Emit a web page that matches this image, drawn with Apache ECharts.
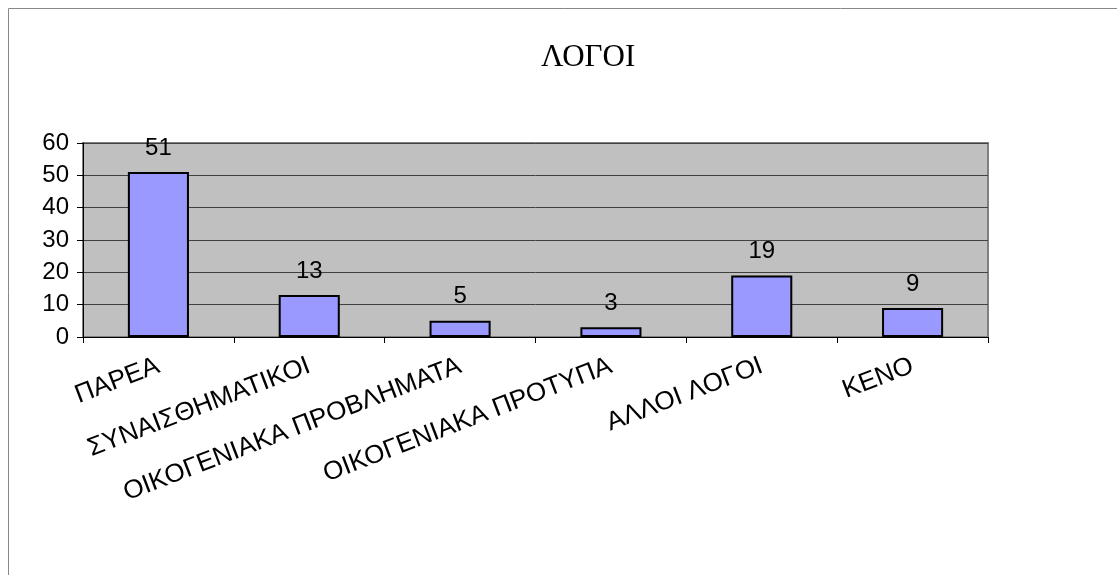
<!DOCTYPE html>
<html>
<head>
<meta charset="utf-8">
<script src="https://cdn.jsdelivr.net/npm/echarts@6/dist/echarts.min.js"></script>
<style>
  html, body { margin: 0; padding: 0; background: #fff; }
  #chart { width: 1117px; height: 575px; }
</style>
</head>
<body>
<div id="chart"></div>
<script>
const categories = ['ΠΑΡΕΑ', 'ΣΥΝΑΙΣΘΗΜΑΤΙΚΟΙ', 'ΟΙΚΟΓΕΝΙΑΚΑ ΠΡΟΒΛΗΜΑΤΑ', 'ΟΙΚΟΓΕΝΙΑΚΑ ΠΡΟΤΥΠΑ', 'ΑΛΛΟΙ ΛΟΓΟΙ', 'ΚΕΝΟ']
const values = [51, 13, 5, 3, 19, 9]
const titleText = 'ΛΟΓΟΙ'

const chart = echarts.init(document.getElementById('chart'))
const font = '"Liberation Sans", Arial, sans-serif'

chart.setOption({
  animation: false,
  title: {
    text: titleText,
    left: 536,
    top: 37,
    textStyle: { fontFamily: '"Liberation Serif", "Times New Roman", serif', fontSize: 31, fontWeight: 'normal', color: '#000' }
  },
  graphic: [{
    type: 'rect',
    shape: { x: 8.5, y: 8.5, width: 1200, height: 700 },
    style: { fill: null, stroke: '#888', lineWidth: 1 },
    silent: true,
    z: -10
  }],
  grid: {
    left: 83, right: 129, top: 143, bottom: 238,
    show: true,
    backgroundColor: '#c0c0c0',
    borderColor: '#808080',
    borderWidth: 2
  },
  xAxis: {
    type: 'category',
    data: categories,
    axisLine: { lineStyle: { color: '#000', width: 1 } },
    axisTick: { show: true, length: 6, lineStyle: { color: '#000' } },
    axisLabel: { rotate: 21, margin: 28, fontFamily: font, fontSize: 26, color: '#000', interval: 0 }
  },
  yAxis: {
    type: 'value',
    min: 0, max: 60, interval: 10,
    axisLine: { show: true, lineStyle: { color: '#000', width: 1 } },
    axisTick: { show: true, length: 6, lineStyle: { color: '#000' } },
    axisLabel: { margin: 14, fontFamily: font, fontSize: 24, color: '#000' },
    splitLine: { lineStyle: { color: '#404040', width: 1 } }
  },
  series: [{
    type: 'bar',
    data: values,
    barWidth: '40.5%',
    itemStyle: { color: '#9999ff', borderColor: '#000', borderWidth: 2 },
    label: { show: true, position: 'top', distance: 12, fontFamily: font, fontSize: 24, color: '#000' }
  }]
})
</script>
</body>
</html>
